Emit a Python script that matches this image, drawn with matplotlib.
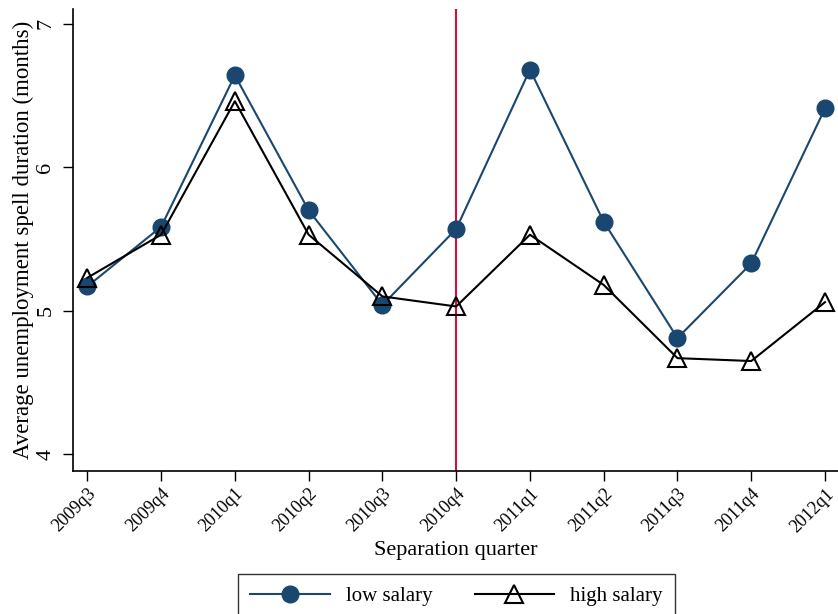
import matplotlib
matplotlib.use('Agg')
import matplotlib.pyplot as plt

plt.rcParams['font.family'] = ['Liberation Serif', 'DejaVu Serif']

quarters = ['2009q3', '2009q4', '2010q1', '2010q2', '2010q3', '2010q4',
            '2011q1', '2011q2', '2011q3', '2011q4', '2012q1']
low_salary = [5.17, 5.585, 6.64, 5.70, 5.04, 5.57, 6.68, 5.62, 4.81, 5.33, 6.41]
high_salary = [5.23, 5.53, 6.46, 5.53, 5.10, 5.03, 5.53, 5.18, 4.67, 4.65, 5.06]
event_quarter = '2010q4'

navy = '#1a476f'
x = list(range(len(quarters)))

fig = plt.figure(figsize=(8.38, 6.14), dpi=100)
ax = fig.add_axes([0.0875, 0.2334, 0.9125, 0.7514])

ax.axvline(quarters.index(event_quarter), color='#d0103a', lw=1.5, zorder=1)
ax.plot(x, low_salary, color=navy, lw=1.5, marker='o', markersize=12,
        markerfacecolor=navy, markeredgecolor=navy, label='low salary', zorder=3)
ax.plot(x, high_salary, color='black', lw=1.5, marker='^', markersize=13,
        markerfacecolor='none', markeredgecolor='black', markeredgewidth=1.5,
        label='high salary', zorder=4)

ax.set_xlim(-0.19, 10.176)
ax.set_ylim(3.886, 7.10)
ax.set_yticks([4, 5, 6, 7])
ax.set_yticklabels(['4', '5', '6', '7'], rotation=90, va='center', fontsize=16)
ax.set_xticks(x)
ax.set_xticklabels(quarters, rotation=45, ha='right', rotation_mode='anchor', fontsize=13)
ax.tick_params(axis='both', length=7, width=1)
ax.tick_params(axis='y', pad=6)
for s in ['top', 'right']:
    ax.spines[s].set_visible(False)
ax.spines['left'].set_linewidth(1.2)
ax.spines['bottom'].set_linewidth(1.2)

ax.set_ylabel('Average unemployment spell duration (months)', fontsize=16.5)
ax.yaxis.set_label_coords(-0.051, 0.5)
ax.set_xlabel('Separation quarter', fontsize=16, labelpad=4)

leg = fig.legend(loc='lower center', bbox_to_anchor=(0.545, -0.025), ncol=2,
                 fontsize=15, frameon=True, fancybox=False, edgecolor='black',
                 handlelength=3.8, columnspacing=2.0, borderpad=0.6)
leg.get_frame().set_linewidth(1.0)

fig.savefig('out.png', dpi=100)
